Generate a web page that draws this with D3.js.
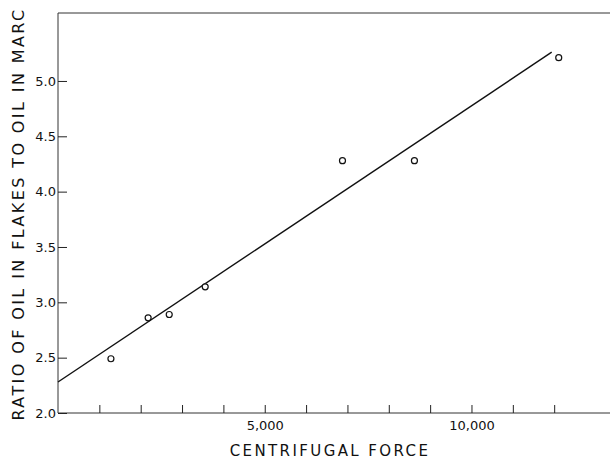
<!DOCTYPE html>
<html>
<head>
<meta charset="utf-8">
<script src="https://cdn.jsdelivr.net/npm/d3@7"></script>
<style>
  body { margin: 0; background: #fff; }
  text { font-family: "DejaVu Sans", sans-serif; fill: #111; }
</style>
</head>
<body>
<div id="chart"></div>
<script>
const width = 610;
const height = 459;

// Data
const force = [1280, 2180, 2690, 3560, 6880, 8620, 12110];
const ratio = [2.49, 2.86, 2.89, 3.14, 4.28, 4.28, 5.21];
const fitForce = [0, 11940];
const fitRatio = [2.28, 5.26];
const xTicks = [1000, 2000, 3000, 4000, 5000, 6000, 7000, 8000, 9000, 10000, 11000, 12000];
const xTickLabels = { 5000: '5,000', 10000: '10,000' };
const yTicks = [2.0, 2.5, 3.0, 3.5, 4.0, 4.5, 5.0];

const margin = { left: 58, top: 13, right: 0, bottom: 46 };

const x = d3.scaleLinear()
  .domain([0, 13350])
  .range([margin.left, width - margin.right]);

const y = d3.scaleLinear()
  .domain([2.0, 5.614])
  .range([height - margin.bottom, margin.top]);

const svg = d3.select('#chart')
  .append('svg')
  .attr('width', width)
  .attr('height', height);

// Frame: left, top and bottom lines
svg.append('path')
  .attr('d', `M${width},${margin.top}H${margin.left}V${height - margin.bottom}H${width}`)
  .attr('fill', 'none')
  .attr('stroke', '#333')
  .attr('stroke-width', 1);

// Bottom axis: inward ticks
const xAxis = svg.append('g')
  .attr('transform', `translate(0,${height - margin.bottom})`)
  .call(d3.axisBottom(x)
    .tickValues(xTicks)
    .tickSize(-8)
    .tickPadding(8)
    .tickFormat(d => xTickLabels[d] || ''));
xAxis.select('.domain').remove();
xAxis.selectAll('line').attr('stroke', '#222');
xAxis.selectAll('text')
  .style('font-size', '13px')
  .attr('dy', '0.71em');

// Left axis: inward ticks, labels outside
const yAxis = svg.append('g')
  .attr('transform', `translate(${margin.left},0)`)
  .call(d3.axisLeft(y)
    .tickValues(yTicks)
    .tickSize(-9)
    .tickPadding(2)
    .tickFormat(d3.format('.1f')));
yAxis.select('.domain').remove();
yAxis.selectAll('line').attr('stroke', '#222');
yAxis.selectAll('text').style('font-size', '13px');

// Fitted line
svg.append('line')
  .attr('x1', x(fitForce[0]))
  .attr('y1', y(fitRatio[0]))
  .attr('x2', x(fitForce[1]))
  .attr('y2', y(fitRatio[1]))
  .attr('stroke', '#111')
  .attr('stroke-width', 1.4);

// Observed points
svg.selectAll('.point')
  .data(force.map((f, i) => [f, ratio[i]]))
  .enter()
  .append('circle')
  .attr('class', 'point')
  .attr('cx', d => x(d[0]))
  .attr('cy', d => y(d[1]))
  .attr('r', 3)
  .attr('fill', '#fff')
  .attr('stroke', '#111')
  .attr('stroke-width', 1.2);

// Axis titles
svg.append('text')
  .attr('x', 330)
  .attr('y', 456)
  .attr('text-anchor', 'middle')
  .style('font-size', '15px')
  .style('letter-spacing', '2.4px')
  .text('CENTRIFUGAL FORCE');

svg.append('text')
  .attr('transform', 'translate(24,214) rotate(-90)')
  .attr('text-anchor', 'middle')
  .style('font-size', '16px')
  .style('letter-spacing', '2.4px')
  .text('RATIO OF OIL IN FLAKES TO OIL IN MARC');
</script>
</body>
</html>
